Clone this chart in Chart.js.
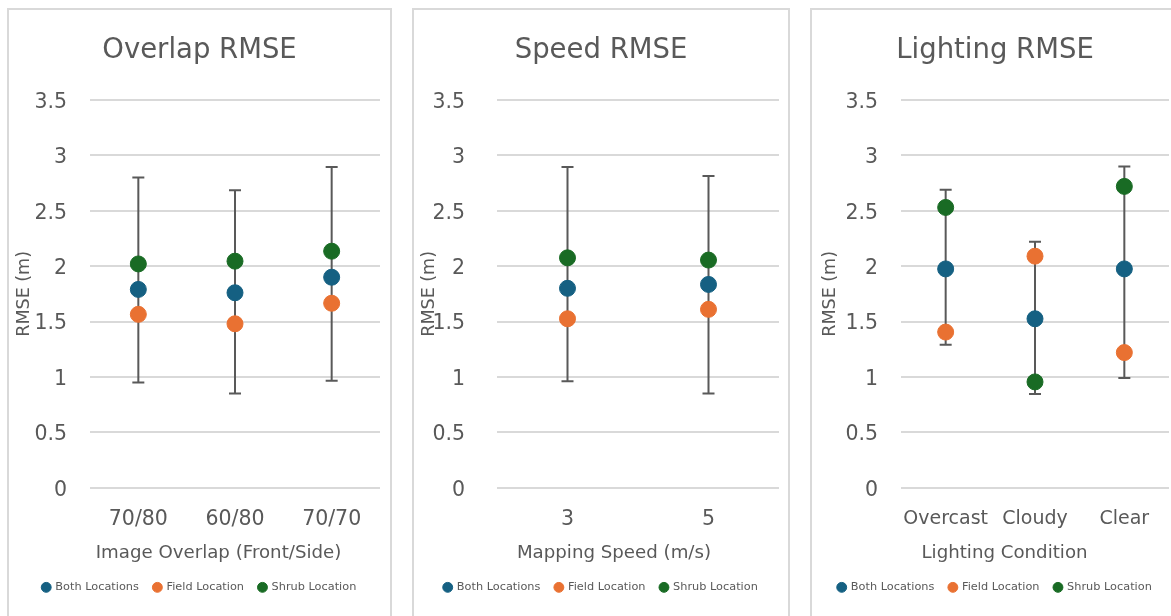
<!DOCTYPE html>
<html>
<head>
<meta charset="utf-8">
<script src="https://cdn.jsdelivr.net/npm/chart.js@4.4.1/dist/chart.umd.min.js"></script>
<style>
  html, body { margin: 0; padding: 0; background: #ffffff; }
  body { width: 1171px; height: 616px; overflow: hidden; position: relative; }
  .panel { position: absolute; top: 8px; height: 640px; border: 2px solid #d9d9d9; background: #ffffff; }
  .panel canvas { position: absolute; left: 0; top: 0; }
</style>
</head>
<body>
<div class="panel" style="left:7px;width:381px;"><canvas id="c1" width="381" height="593"></canvas></div>
<div class="panel" style="left:412px;width:374px;"><canvas id="c2" width="374" height="593"></canvas></div>
<div class="panel" style="left:810px;width:366px;"><canvas id="c3" width="366" height="593"></canvas></div>
<script>
// ---------- data ----------
const seriesNames = ['Both Locations', 'Field Location', 'Shrub Location'];
const seriesColors = ['#156082', '#E97132', '#196B24'];

const overlapCategories = ['70/80', '60/80', '70/70'];
const overlapBoth  = [1.79, 1.76, 1.90];
const overlapField = [1.565, 1.48, 1.665];
const overlapShrub = [2.02, 2.045, 2.135];
const overlapErrLow  = [0.95, 0.85, 0.965];
const overlapErrHigh = [2.80, 2.685, 2.895];

const speedCategories = ['3', '5'];
const speedBoth  = [1.80, 1.835];
const speedField = [1.525, 1.61];
const speedShrub = [2.075, 2.055];
const speedErrLow  = [0.96, 0.85];
const speedErrHigh = [2.895, 2.815];

const lightingCategories = ['Overcast', 'Cloudy', 'Clear'];
const lightingBoth  = [1.975, 1.525, 1.975];
const lightingField = [1.405, 2.09, 1.22];
const lightingShrub = [2.53, 0.955, 2.72];
const lightingErrLow  = [1.29, 0.845, 0.99];
const lightingErrHigh = [2.69, 2.22, 2.90];

const yMin = 0, yMax = 3.5, yStep = 0.5;
const yTickLabels = ['0', '0.5', '1', '1.5', '2', '2.5', '3', '3.5'];
const yAxisTitle = 'RMSE (m)';

// ---------- styling ----------
const TEXT = '#595959';
const GRID = '#d9d9d9';
Chart.defaults.font.family = "'DejaVu Sans', 'Liberation Sans', sans-serif";
Chart.defaults.color = TEXT;

const errorBarPlugin = {
  id: 'errorBars',
  beforeDatasetsDraw(chart, args, opts) {
    const { ctx, scales } = chart;
    const xs = scales.x, ys = scales.y;
    chart.data.datasets.forEach(ds => {
      if (!ds.errorLow) return;
      ctx.save();
      ctx.strokeStyle = opts.color;
      ctx.lineWidth = opts.width;
      ds.errorLow.forEach((lo, i) => {
        const px = xs.getPixelForValue(i);
        const yl = ys.getPixelForValue(lo);
        const yh = ys.getPixelForValue(ds.errorHigh[i]);
        ctx.beginPath();
        ctx.moveTo(px, yl); ctx.lineTo(px, yh);
        ctx.moveTo(px - opts.cap, yl); ctx.lineTo(px + opts.cap, yl);
        ctx.moveTo(px - opts.cap, yh); ctx.lineTo(px + opts.cap, yh);
        ctx.stroke();
      });
      ctx.restore();
    });
  }
};

const xTitlePlugin = {
  id: 'xTitle',
  afterDraw(chart, args, opts) {
    const { ctx } = chart;
    ctx.save();
    ctx.font = opts.size + "px 'DejaVu Sans', sans-serif";
    ctx.fillStyle = TEXT;
    ctx.textAlign = 'center';
    ctx.textBaseline = 'middle';
    ctx.fillText(opts.text, opts.x, chart.scales.x.bottom - opts.fromBottom);
    ctx.restore();
  }
};

function makeChart(id, cfg) {
  const values = [cfg.both, cfg.field, cfg.shrub];
  const datasets = values.map((vals, k) => ({
    label: seriesNames[k],
    data: vals,
    showLine: false,
    backgroundColor: seriesColors[k],
    borderColor: seriesColors[k],
    pointBackgroundColor: seriesColors[k],
    pointBorderColor: seriesColors[k],
    pointRadius: 8,
    pointHoverRadius: 8,
    pointBorderWidth: 1,
    pointStyle: 'circle'
  }));
  datasets[0].errorLow = cfg.errLow;
  datasets[0].errorHigh = cfg.errHigh;

  return new Chart(document.getElementById(id), {
    type: 'line',
    data: { labels: cfg.categories, datasets },
    plugins: [errorBarPlugin, xTitlePlugin],
    options: {
      responsive: false,
      animation: false,
      events: [],
      layout: { padding: 0 },
      plugins: {
        title: {
          display: true,
          text: cfg.title,
          color: TEXT,
          font: { size: 27.5, weight: 'normal' },
          padding: { top: 24, bottom: 33 }
        },
        legend: {
          display: true,
          position: 'bottom',
          labels: {
            usePointStyle: true,
            pointStyle: 'circle',
            boxWidth: 7,
            boxHeight: 7,
            padding: 15,
            color: TEXT,
            font: { size: 11.3 }
          }
        },
        tooltip: { enabled: false },
        errorBars: { color: '#595959', width: 2, cap: 6 },
        xTitle: { text: cfg.xTitle, x: cfg.xTitleX, fromBottom: 13, size: 18.2 }
      },
      scales: {
        x: {
          type: 'category',
          offset: true,
          grid: { display: false, drawTicks: false },
          border: { display: false },
          ticks: { color: TEXT, font: { size: cfg.xTickSize }, padding: 20, maxRotation: 0, autoSkip: false },
          afterFit(s) { s.height = 79; }
        },
        y: {
          type: 'linear',
          position: 'left',
          min: yMin,
          max: yMax,
          grid: { color: GRID, lineWidth: 2, drawTicks: false },
          border: { display: false },
          ticks: {
            stepSize: yStep, color: TEXT, font: { size: 20.5 }, padding: cfg.yTickPad,
            labelOffset: 2.5,
            callback: (v, i) => yTickLabels[i]
          },
          title: {
            display: true,
            text: yAxisTitle,
            color: TEXT,
            font: { size: 17.5 },
            padding: { top: cfg.yTitlePad, bottom: 0 }
          },
          afterFit(s) { s.width = cfg.yWidth; }
        },
        yRight: {
          type: 'linear',
          position: 'right',
          display: true,
          grid: { display: false, drawTicks: false },
          border: { display: false },
          ticks: { display: false },
          afterFit(s) { s.width = cfg.rightPad; }
        }
      }
    }
  });
}

makeChart('c1', {
  title: 'Overlap RMSE', categories: overlapCategories,
  both: overlapBoth, field: overlapField, shrub: overlapShrub,
  errLow: overlapErrLow, errHigh: overlapErrHigh,
  xTitle: 'Image Overlap (Front/Side)', xTitleX: 209.5, xTickSize: 20.5,
  yWidth: 81, rightPad: 10, yTickPad: 23, yTitlePad: 5
});
makeChart('c2', {
  title: 'Speed RMSE', categories: speedCategories,
  both: speedBoth, field: speedField, shrub: speedShrub,
  errLow: speedErrLow, errHigh: speedErrHigh,
  xTitle: 'Mapping Speed (m/s)', xTitleX: 200, xTickSize: 20.5,
  yWidth: 83, rightPad: 9, yTickPad: 32, yTitlePad: 5
});
makeChart('c3', {
  title: 'Lighting RMSE', categories: lightingCategories,
  both: lightingBoth, field: lightingField, shrub: lightingShrub,
  errLow: lightingErrLow, errHigh: lightingErrHigh,
  xTitle: 'Lighting Condition', xTitleX: 192.5, xTickSize: 19,
  yWidth: 89, rightPad: 7, yTickPad: 23, yTitlePad: 7.5
});
</script>
</body>
</html>
